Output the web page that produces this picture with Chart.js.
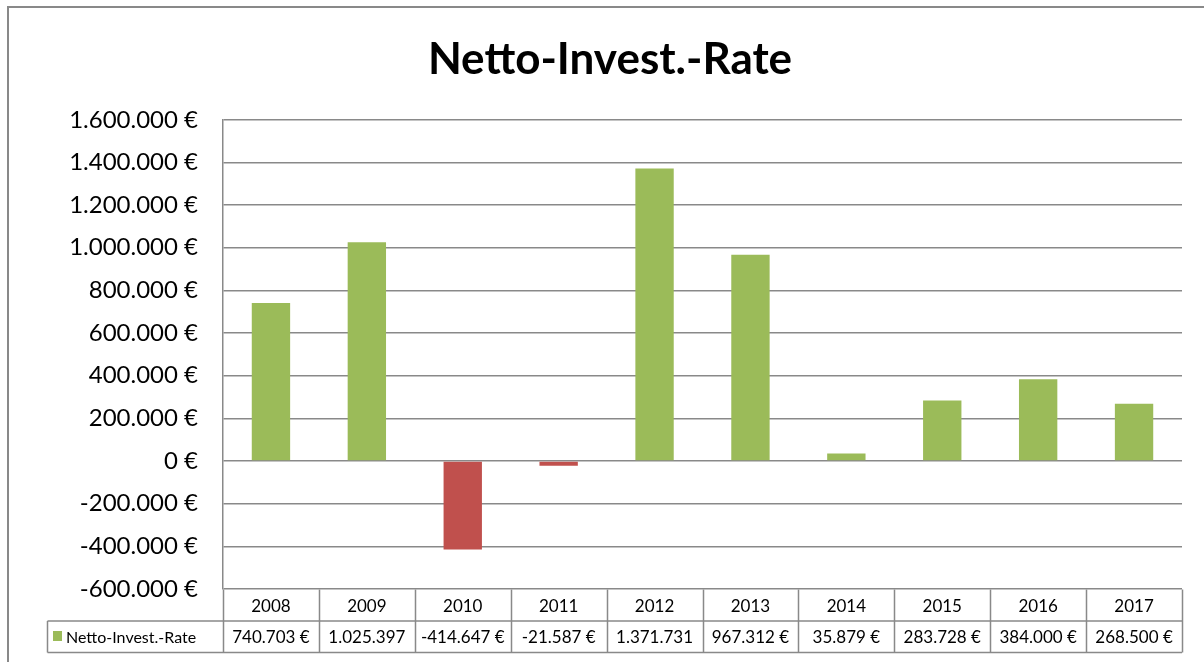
<!DOCTYPE html>
<html>
<head>
<meta charset="utf-8">
<script src="https://cdn.jsdelivr.net/npm/chart.js@4/dist/chart.umd.min.js"></script>
<style>
  body { margin: 0; background: #fff; }
  #netChart { display: block; }
</style>
</head>
<body>
<canvas id="netChart" width="1204" height="662"></canvas>
<script>
const years = ["2008", "2009", "2010", "2011", "2012", "2013", "2014", "2015", "2016", "2017"];
const netValues = [740703, 1025397, -414647, -21587, 1371731, 967312, 35879, 283728, 384000, 268500];
const seriesName = "Netto-Invest.-Rate";
const posColor = "#9BBB59";
const negColor = "#C0504D";
const lineColor = "#898989";

// 1234567 -> "1.234.567"
const fmt = (v) => {
    let s = Math.abs(Math.round(v)).toString().replace(/\B(?=(\d{3})+(?!\d))/g, ".");
    return (v < 0 ? "-" : "") + s;
};

const frameAndTable = {
    id: "frameAndTable",
    beforeDraw(chart) {
        const ctx = chart.ctx;
        ctx.save();
        ctx.fillStyle = "#fff";
        ctx.fillRect(0, 0, chart.width, chart.height);
        ctx.strokeStyle = lineColor;
        ctx.lineWidth = 2;
        ctx.strokeRect(8, 7, 1400, 800);
        ctx.restore();
    },
    afterDraw(chart) {
        const ctx = chart.ctx;
        const area = chart.chartArea;
        const x = chart.scales.x;
        const top = Math.round(area.bottom) + 0.5;
        const rowH = 31.5;
        const mid = top + rowH;
        const bot = top + rowH * 2;
        const tableLeft = 47.5;

        ctx.save();
        ctx.strokeStyle = lineColor;
        ctx.lineWidth = 1.5;
        ctx.beginPath();
        ctx.moveTo(tableLeft, mid); ctx.lineTo(area.right, mid);
        ctx.moveTo(tableLeft, bot); ctx.lineTo(area.right, bot);
        ctx.moveTo(tableLeft, mid); ctx.lineTo(tableLeft, bot);
        const colW = (area.right - area.left) / years.length;
        for (let i = 0; i <= years.length; i++) {
            const cx = Math.round(x.getPixelForValue(i) - colW / 2) + 0.5;
            ctx.moveTo(cx, top); ctx.lineTo(cx, bot);
        }
        ctx.stroke();

        ctx.fillStyle = "#000";
        ctx.font = "17px Lato";
        ctx.textAlign = "center";
        ctx.textBaseline = "middle";
        years.forEach((y, i) => {
            const cx = x.getPixelForValue(i);
            ctx.fillText(y, cx, top + rowH / 2 + 1);
            // like the spreadsheet: the euro sign is cut when the cell is too narrow
            let txt = fmt(netValues[i]) + " €";
            if (ctx.measureText(txt).width > colW - 6) txt = fmt(netValues[i]);
            ctx.fillText(txt, cx, mid + rowH / 2 + 1);
        });

        ctx.fillStyle = posColor;
        ctx.fillRect(53, mid + 10, 9, 10);
        ctx.fillStyle = "#000";
        ctx.textAlign = "left";
        ctx.font = "16px Lato";
        ctx.fillText(seriesName, 66, mid + rowH / 2 + 1);
        ctx.restore();
    }
};

new Chart(document.getElementById("netChart"), {
    type: "bar",
    data: {
        labels: years,
        datasets: [{
            label: seriesName,
            data: netValues,
            backgroundColor: netValues.map(v => v < 0 ? negColor : posColor),
            categoryPercentage: 1,
            barPercentage: 0.4
        }]
    },
    options: {
        responsive: false,
        animation: false,
        devicePixelRatio: 1,
        layout: { padding: { left: 38, top: 0, right: 22, bottom: 73 } },
        plugins: {
            legend: { display: false },
            tooltip: { enabled: false },
            title: {
                display: true,
                text: seriesName,
                color: "#000",
                font: { family: "Lato", size: 44, weight: "bold", lineHeight: 1.2 },
                padding: { top: 33, bottom: 34 }
            }
        },
        scales: {
            x: {
                display: false
            },
            y: {
                min: -600000,
                max: 1600000,
                afterFit(scale) { scale.width = 185; },
                ticks: {
                    stepSize: 200000,
                    padding: 25,
                    color: "#000",
                    font: { family: "Lato", size: 24 },
                    callback: (v) => fmt(v) + " €"
                },
                grid: {
                    color: lineColor,
                    lineWidth: 1.5,
                    drawTicks: false
                },
                border: { color: lineColor, width: 1.5 }
            }
        }
    },
    plugins: [frameAndTable]
});
</script>
</body>
</html>
